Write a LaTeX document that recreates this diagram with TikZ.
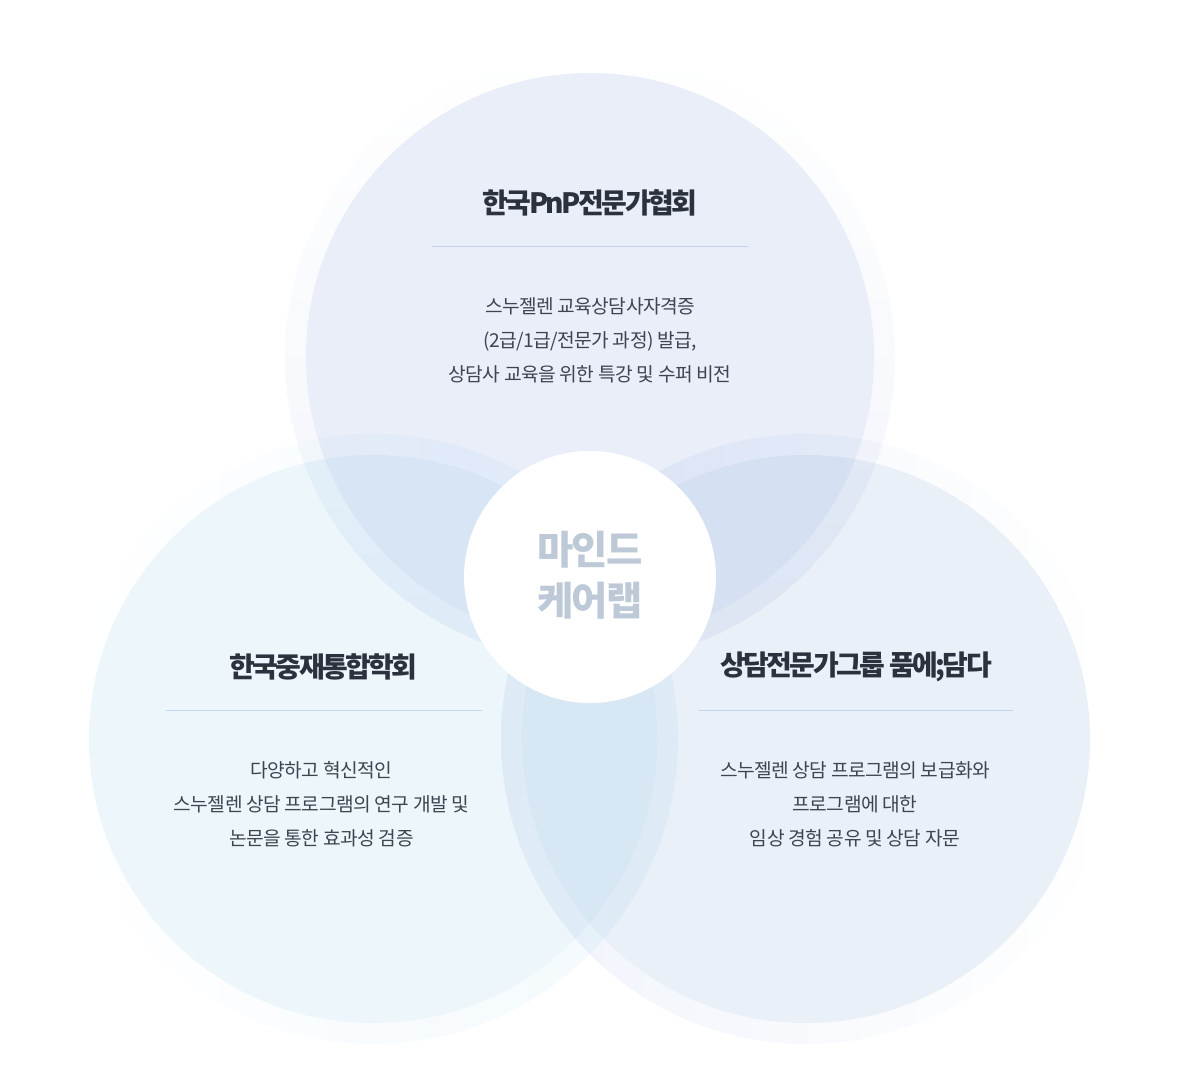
\documentclass[tikz,border=0pt]{standalone}
\usepackage{fontspec}
\newfontfamily\krbody{Noto Sans CJK KR}[LetterSpace=-3]
\newfontfamily\krhead{Noto Sans CJK KR}[LetterSpace=-9]
\newfontfamily\krmid{Noto Sans CJK KR}[LetterSpace=-5]
\definecolor{topc}{HTML}{E9EEF9}
\definecolor{leftc}{HTML}{ECF6FB}
\definecolor{rightc}{HTML}{EAF0F8}
\definecolor{glowT}{HTML}{F1F4FB}
\definecolor{glowL}{HTML}{F2F9FD}
\definecolor{glowR}{HTML}{F0F4FB}
\definecolor{headc}{HTML}{2B323D}
\definecolor{bodyc}{HTML}{3E4550}
\definecolor{midc}{HTML}{BEC9D8}
\definecolor{divT}{HTML}{C6D2EA}
\definecolor{divB}{HTML}{BFD7EF}
\begin{document}
\begin{tikzpicture}[x=1pt,y=-1pt,
  head/.style={font=\krhead\bfseries\fontsize{28}{32}\selectfont, text=headc, inner sep=0pt},
  body/.style={font=\krbody\fontsize{19.2}{34}\selectfont, text=bodyc, align=center, inner sep=0pt},
  mid/.style={font=\krmid\bfseries\fontsize{39.5}{51}\selectfont, text=midc, align=center, inner sep=0pt},
  divider/.style={line width=1pt}]
\useasboundingbox[fill=white] (0,0) rectangle (1180,1089);
\begin{scope}[blend group=multiply]
  \shade[even odd rule, top color=white, bottom color=glowT]
    (590,357) circle[radius=305pt] (590,357) circle[radius=284pt];
  \shade[even odd rule, left color=white, right color=glowL]
    (373,739) circle[radius=305pt] (373,739) circle[radius=284pt];
  \shade[even odd rule, left color=glowR, right color=white]
    (806,739) circle[radius=305pt] (806,739) circle[radius=284pt];
  \fill[topc] (590,357) circle[radius=284pt];
  \fill[leftc] (373,739) circle[radius=284pt];
  \fill[rightc] (806,739) circle[radius=284pt];
\end{scope}
\node[circle, fill=white, minimum size=252pt, inner sep=0pt] (center) at (590,577) {};
\node[mid] (brand) at (590,575) {마인드\\케어랩};
% top
\node[head] (h1) at (590,203) {한국PnP전문가협회};
\draw[divider, divT] (432,246) -- (748,246);
\node[body] (b1) at (590,340.5) {스누젤렌 교육상담사자격증\\(2급/1급/전문가 과정) 발급,\\상담사 교육을 위한 특강 및 수퍼 비전};
% left
\node[head] (h2) at (323.5,667) {한국중재통합학회};
\draw[divider, divB] (166,710) -- (482,710);
\node[body] (b2) at (321.5,804) {다양하고 혁신적인\\스누젤렌 상담 프로그램의 연구 개발 및\\논문을 통한 효과성 검증};
% right
\node[head] (h3) at (856,667) {상담전문가그룹 품에;담다};
\draw[divider, divB] (698,710) -- (1013,710);
\node[body] (b3) at (855,804) {스누젤렌 상담 프로그램의 보급화와\\프로그램에 대한\\임상 경험 공유 및 상담 자문};
\end{tikzpicture}
\end{document}
